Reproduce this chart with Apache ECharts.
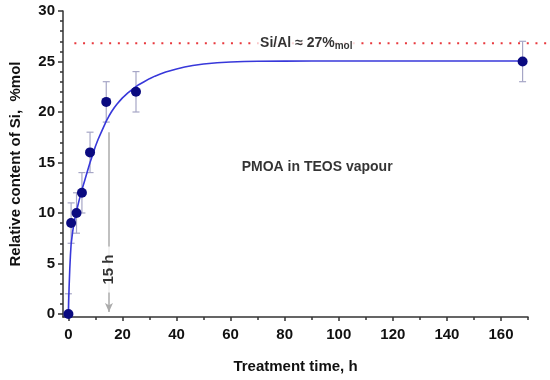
<!DOCTYPE html>
<html><head><meta charset="utf-8">
<script src="https://cdn.jsdelivr.net/npm/echarts@6/dist/echarts.min.js"></script>
<style>html,body{margin:0;padding:0;background:#fff}#c{width:550px;height:380px}</style>
</head><body><div id="c"></div>
<script>
// measured data
const times = [0, 1, 3, 5, 8, 14, 25, 168];
const content = [0, 9, 10, 12, 16, 21, 22, 25];
const errors = [2, 2, 2, 2, 2, 2, 2, 2];
// fitted curve
const fitTimes = [0, 0.1, 0.25, 0.5, 0.75, 1, 1.5, 2, 2.5, 3, 4, 5, 6, 7, 8, 9, 10, 11, 12, 13, 14, 15, 16, 17, 18, 19, 20, 22, 24, 26, 28, 30, 32, 34, 36, 38, 40, 43, 46, 50, 55, 60, 65, 70, 80, 90, 100, 120, 140, 168];
const fitValues = [0, 1.2, 2.6, 4.4, 5.8, 6.9, 8.0, 8.9, 9.6, 10.2, 11.3, 12.3, 13.2, 14.1, 15.0, 15.8, 16.6, 17.3, 17.9, 18.5, 19.1, 19.6, 20.05, 20.45, 20.8, 21.1, 21.4, 21.9, 22.3, 22.7, 23.0, 23.3, 23.55, 23.75, 23.95, 24.1, 24.25, 24.45, 24.6, 24.75, 24.87, 24.95, 25.0, 25.02, 25.04, 25.05, 25.05, 25.05, 25.05, 25.05];
// axis ticks
const xTicks = [0, 20, 40, 60, 80, 100, 120, 140, 160];
const xMinorTicks = [10, 30, 50, 70, 90, 110, 130, 150, 170];
const yTicks = [0, 5, 10, 15, 20, 25, 30];
const yMinorTicks = [1,2,3,4,6,7,8,9,11,12,13,14,16,17,18,19,21,22,23,24,26,27,28,29];
// annotations
const siAlLimit = 26.8;
const siAlText = 'Si/Al ≈ 27%';
const markTime = 15;
const markTop = 18;
const markText = '15 h';
const sampleText = 'PMOA in TEOS vapour';

const X_MIN = -2, X_MAX = 170, Y_MIN = -0.3, Y_MAX = 30;
const FONT = 'Liberation Sans, Arial, sans-serif';
const chart = echarts.init(document.getElementById('c'), null, {renderer: 'canvas'});

const axisLineStyle = {color: '#333', width: 1.5};
const labelStyle = {color: '#111', fontWeight: 'bold', fontSize: 15, fontFamily: FONT};

const option = {
  animation: false,
  backgroundColor: '#fff',
  grid: {left: 63, right: 22, top: 11, bottom: 63, containLabel: false, outerBoundsMode: 'none'},
  xAxis: [{
    type: 'value', min: X_MIN, max: X_MAX,
    name: 'Treatment time, h', nameLocation: 'middle', nameGap: 42,
    nameTextStyle: {color: '#111', fontWeight: 'bold', fontSize: 15, fontFamily: FONT},
    axisLine: {show: true, onZero: false, lineStyle: axisLineStyle},
    axisTick: {show: true, customValues: xTicks, length: 4, lineStyle: axisLineStyle},
    axisLabel: Object.assign({customValues: xTicks, margin: 10}, labelStyle),
    splitLine: {show: false}
  }, {
    type: 'value', min: X_MIN, max: X_MAX, position: 'bottom', gridIndex: 0,
    axisLine: {show: false, onZero: false},
    axisTick: {show: true, customValues: xMinorTicks, length: 3, lineStyle: axisLineStyle},
    axisLabel: {show: false, customValues: xMinorTicks},
    splitLine: {show: false}
  }],
  yAxis: [{
    type: 'value', min: Y_MIN, max: Y_MAX,
    name: 'Relative content of Si,  %mol', nameLocation: 'middle', nameGap: 40,
    nameTextStyle: {color: '#111', fontWeight: 'bold', fontSize: 15, fontFamily: FONT},
    axisLine: {show: true, onZero: false, lineStyle: axisLineStyle},
    axisTick: {show: true, customValues: yTicks, length: 5, lineStyle: axisLineStyle},
    axisLabel: Object.assign({customValues: yTicks, margin: 8}, labelStyle),
    splitLine: {show: false}
  }, {
    type: 'value', min: Y_MIN, max: Y_MAX, position: 'left',
    axisLine: {show: false, onZero: false},
    axisTick: {show: true, customValues: yMinorTicks, length: 3, lineStyle: axisLineStyle},
    axisLabel: {show: false, customValues: yMinorTicks},
    splitLine: {show: false}
  }],
  series: [
    {
      type: 'line', name: 'fit', z: 3,
      data: fitTimes.map((t, i) => [t, fitValues[i]]),
      showSymbol: false, symbol: 'none', smooth: false,
      lineStyle: {color: '#3838da', width: 1.6},
      markLine: {
        silent: true, symbol: ['none', 'arrow'], symbolSize: [6, 9],
        label: {show: false},
        lineStyle: {color: '#ababab', width: 1.5, type: 'solid'},
        data: [[{coord: [markTime, markTop]}, {coord: [markTime, 0.2]}]]
      }
    },
    {
      type: 'custom', name: 'err', z: 2, clip: true,
      data: times.map((t, i) => [t, content[i] - errors[i], content[i] + errors[i]]),
      renderItem: function (params, api) {
        const lo = api.coord([api.value(0), api.value(1)]);
        const hi = api.coord([api.value(0), api.value(2)]);
        const w = 3.5;
        const st = {stroke: '#a6a6c6', lineWidth: 1.2};
        return {type: 'group', children: [
          {type: 'line', shape: {x1: lo[0], y1: lo[1], x2: hi[0], y2: hi[1]}, style: st},
          {type: 'line', shape: {x1: lo[0] - w, y1: lo[1], x2: lo[0] + w, y2: lo[1]}, style: st},
          {type: 'line', shape: {x1: hi[0] - w, y1: hi[1], x2: hi[0] + w, y2: hi[1]}, style: st}
        ]};
      }
    },
    {
      type: 'scatter', name: 'data', z: 4,
      data: times.map((t, i) => [t, content[i]]),
      symbol: 'circle', symbolSize: 10,
      itemStyle: {color: '#0a0a80', opacity: 1}
    },
    {
      type: 'scatter', name: 'notes', z: 5, silent: true,
      symbolSize: 0,
      data: [
        {value: [88, siAlLimit], label: {
          show: true, position: 'inside', backgroundColor: '#fff', padding: [1, 3],
          formatter: '{a|' + siAlText + '}{b|mol}',
          rich: {
            a: {fontSize: 14, fontWeight: 'bold', color: '#000', fontFamily: FONT},
            b: {fontSize: 10, fontWeight: 'bold', color: '#000', fontFamily: FONT, padding: [5, 0, 0, 0]}
          }
        }},
        {value: [92, 14.5], label: {
          show: true, position: 'inside', formatter: sampleText,
          fontSize: 14, fontWeight: 'bold', color: '#000', fontFamily: FONT
        }},
        {value: [markTime, 4.4], label: {
          show: true, position: 'inside', formatter: markText, rotate: 90,
          backgroundColor: '#fff', padding: [0, 8],
          fontSize: 15, fontWeight: 'bold', color: '#000', fontFamily: FONT
        }}
      ]
    }
  ]
};
chart.setOption(option);
// Si/Al limit dotted line (extends past the axis end as in the original figure)
const pStart = chart.convertToPixel({gridIndex: 0}, [2.2, siAlLimit]);
const pEnd = chart.convertToPixel({gridIndex: 0}, [177, siAlLimit]);
chart.setOption({
  graphic: [{
    type: 'line', z: 1, silent: true,
    shape: {x1: pStart[0], y1: pStart[1], x2: pEnd[0], y2: pEnd[1]},
    style: {stroke: '#e8383d', lineWidth: 2, lineDash: [2, 6.7]}
  }]
});
</script>
</body></html>
